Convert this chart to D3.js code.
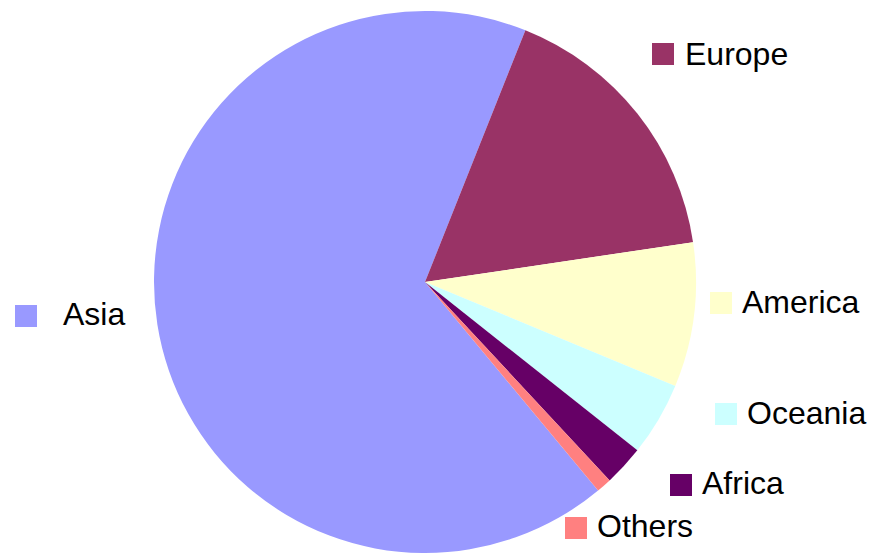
<!DOCTYPE html>
<html>
<head>
<meta charset="utf-8">
<script src="https://d3js.org/d3.v7.min.js"></script>
<style>
    body { margin: 0; background: #fff; }
    #chart { width: 873px; height: 554px; overflow: hidden; }
</style>
</head>
<body>
<div id="chart"></div>
<script>
const regions = ["Asia", "Europe", "America", "Oceania", "Africa", "Others"];
const shares = [67.0, 16.6, 8.6, 4.4, 2.4, 0.9];
const colors = ["#9999ff", "#993366", "#ffffcc", "#ccffff", "#660066", "#ff8080"];

class PieChart {
    constructor(element) {
        this.element = element;
        this.data = regions.map((r, i) => ({ region: r, value: shares[i], color: colors[i] }));
        this.initVis();
    }

    initVis() {
        const vis = this;

        vis.width = 873;
        vis.height = 554;
        vis.cx = 425;
        vis.cy = 282;
        vis.radius = 271;

        vis.svg = d3.select("#" + vis.element).append("svg")
            .attr("width", vis.width)
            .attr("height", vis.height);

        // Asia starts low on the right and wraps round to the top
        const start = 140.3 * Math.PI / 180;
        vis.pie = d3.pie()
            .sort(null)
            .value(d => d.value)
            .startAngle(start)
            .endAngle(start + 2 * Math.PI);

        vis.arc = d3.arc()
            .innerRadius(0)
            .outerRadius(vis.radius);

        vis.g = vis.svg.append("g")
            .attr("transform", `translate(${vis.cx},${vis.cy})`);

        vis.g.selectAll(".slice")
            .data(vis.pie(vis.data))
            .enter().append("path")
            .attr("class", "slice")
            .attr("d", vis.arc)
            .style("fill", d => d.data.color);

        // label spots (square left/top, text left, baseline)
        vis.labelPos = {
            Asia:    { sx: 15,  sy: 305, tx: 63,  ty: 325 },
            Europe:  { sx: 652, sy: 43,  tx: 685, ty: 65 },
            America: { sx: 710, sy: 292, tx: 742, ty: 313 },
            Oceania: { sx: 715, sy: 403, tx: 747, ty: 424 },
            Africa:  { sx: 670, sy: 474, tx: 702, ty: 494 },
            Others:  { sx: 565, sy: 517, tx: 597, ty: 537 }
        };

        const labels = vis.svg.selectAll(".label")
            .data(vis.data)
            .enter().append("g")
            .attr("class", "label");

        labels.append("rect")
            .attr("x", d => vis.labelPos[d.region].sx)
            .attr("y", d => vis.labelPos[d.region].sy)
            .attr("width", 22)
            .attr("height", 22)
            .style("fill", d => d.color);

        labels.append("text")
            .attr("x", d => vis.labelPos[d.region].tx)
            .attr("y", d => vis.labelPos[d.region].ty)
            .style("font-family", "'Liberation Sans', Arial, sans-serif")
            .style("font-size", "32px")
            .style("fill", "#000")
            .text(d => d.region);
    }
}

new PieChart("chart");
</script>
</body>
</html>
